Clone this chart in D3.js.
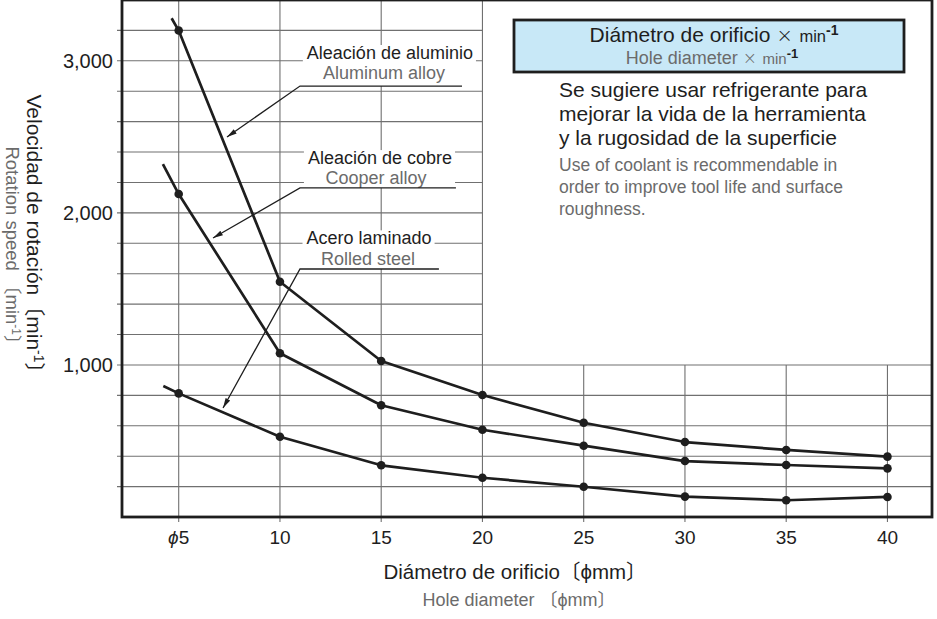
<!DOCTYPE html>
<html><head><meta charset="utf-8">
<script src="https://cdn.jsdelivr.net/npm/d3@7"></script>
<style>
body{margin:0;background:#fff}
svg{display:block}
text{font-family:"Liberation Sans",Arial,Helvetica,"Noto Sans CJK JP",sans-serif}
</style>
</head><body>
<svg id="c" width="937" height="619"></svg>
<script>
// ---------------- data ----------------
const diameters = [5, 10, 15, 20, 25, 30, 35, 40];
const xTickLabels = ["5", "10", "15", "20", "25", "30", "35", "40"];
const aluminum = [3199, 1547, 1026, 802, 620, 493, 441, 397];
const copper   = [2124, 1077, 735, 574, 469, 368, 342, 320];
const steel    = [813, 528, 340, 258, 199, 134, 110, 132];
// each curve starts a little before its first marker: [diameter, speed]
const aluminumLead = [4.65, 3280];
const copperLead   = [4.22, 2321];
const steelLead    = [4.24, 861];
const yTickValues = [1000, 2000, 3000];
const yTickLabels = ["1,000", "2,000", "3,000"];
const gridValues = d3.range(200, 3201, 200);
const seriesNames = ["Aleación de aluminio", "Aleación de cobre", "Acero laminado"];
const seriesNamesEn = ["Aluminum alloy", "Cooper alloy", "Rolled steel"];

// ---------------- layout ----------------
const W = 937, H = 619;
const m = {left: 122, right: 5, top: 0, bottom: 102};
const svg = d3.select("#c");
const x = d3.scaleLinear().domain([2.2, 42.2]).range([m.left, W - m.right]);
const y = d3.scaleLinear().domain([0, 3400]).range([H - m.bottom, m.top]);
const GRAY = "#6b6b6b";
const INK = "#1e1e1e";

// ---------------- grid ----------------
const grid = svg.append("g");
grid.selectAll("line.h").data(gridValues).join("line")
  .attr("x1", x(2.2) - 5)
  .attr("x2", d => d > 1000 ? x(20) : x(42.2))
  .attr("y1", d => y(d)).attr("y2", d => y(d))
  .attr("stroke", "#707070").attr("stroke-width", 1.1);
grid.selectAll("line.v").data(diameters).join("line")
  .attr("x1", d => x(d)).attr("x2", d => x(d))
  .attr("y1", d => d > 20 ? y(1000) : y(3400))
  .attr("y2", y(0) + 5)
  .attr("stroke", "#707070").attr("stroke-width", 1.1);

// ---------------- annotations (labels with leaders) ----------------
const annotations = [
  {i: 0, nx: 15.43, ny: 3012, ex: 15.14, ey: 2880, sx: 10.99, sy: 2834, endx: 18.99, tx: 7.385, ty: 2499},
  {i: 1, nx: 14.94, ny: 2321, ex: 14.74, ey: 2190, sx: 10.99, sy: 2164, endx: 18.69, tx: 6.694, ty: 1835},
  {i: 2, nx: 14.40, ny: 1793, ex: 14.35, ey: 1657, sx: 10.99, sy: 1631, endx: 17.85, tx: 7.19,  ty: 717}
];
svg.append("defs").append("marker")
  .attr("id", "arr").attr("viewBox", "0 -3 10 6").attr("refX", 10).attr("refY", 0)
  .attr("markerWidth", 10).attr("markerHeight", 6).attr("markerUnits", "userSpaceOnUse")
  .attr("orient", "auto-start-reverse")
  .append("path").attr("d", "M0,-2.6L10,0L0,2.6Z").attr("fill", INK);

const ann = svg.append("g");
annotations.forEach(a => {
  const g = ann.append("g");
  const bg = g.append("rect").attr("fill", "#fff");
  const t1 = g.append("text").attr("x", x(a.nx)).attr("y", y(a.ny))
    .attr("text-anchor", "middle").attr("font-size", 18).attr("fill", INK)
    .text(seriesNames[a.i]);
  const t2 = g.append("text").attr("x", x(a.ex)).attr("y", y(a.ey))
    .attr("text-anchor", "middle").attr("font-size", 18).attr("fill", GRAY)
    .text(seriesNamesEn[a.i]);
  const b1 = t1.node().getBBox(), b2 = t2.node().getBBox();
  const l = Math.min(b1.x, b2.x) - 4, r = Math.max(b1.x + b1.width, b2.x + b2.width) + 3;
  const top = b1.y + 2;
  bg.attr("x", l).attr("y", top).attr("width", r - l).attr("height", y(a.sy) - top);
  g.append("polyline")
    .attr("points", `${x(a.tx)},${y(a.ty)} ${x(a.sx)},${y(a.sy)} ${x(a.endx)},${y(a.sy)}`)
    .attr("fill", "none").attr("stroke", INK).attr("stroke-width", 1.3)
    .attr("marker-start", "url(#arr)");
});

// ---------------- series ----------------
const series = [
  {vals: aluminum, lead: aluminumLead},
  {vals: copper, lead: copperLead},
  {vals: steel, lead: steelLead}
];
const line = d3.line().x(d => x(d[0])).y(d => y(d[1]));
const sg = svg.append("g");
series.forEach(s => {
  const pts = [s.lead].concat(diameters.map((d, i) => [d, s.vals[i]]));
  sg.append("path").attr("d", line(pts)).attr("fill", "none")
    .attr("stroke", INK).attr("stroke-width", 2.7).attr("stroke-linejoin", "round");
  sg.selectAll(null).data(diameters.map((d, i) => [d, s.vals[i]])).join("circle")
    .attr("cx", d => x(d[0])).attr("cy", d => y(d[1])).attr("r", 4.3).attr("fill", INK);
});

// ---------------- axes ----------------
const yAxis = svg.append("g");
yAxis.selectAll("text").data(yTickValues).join("text")
  .attr("x", x(2.2) - 9).attr("y", d => y(d)).attr("dy", "0.36em")
  .attr("text-anchor", "end").attr("font-size", 20).attr("fill", INK)
  .text((d, i) => yTickLabels[i]);

const xAxis = svg.append("g");
xAxis.selectAll("text").data(diameters).join("text")
  .attr("x", d => x(d)).attr("y", y(0) + 27)
  .attr("text-anchor", "middle").attr("font-size", 19).attr("fill", INK)
  .each(function(d, i) {
    const t = d3.select(this);
    if (i === 0) t.append("tspan").attr("font-style", "italic").text("ϕ");
    t.append("tspan").text(xTickLabels[i]);
  });

// frame
svg.append("rect").attr("x", x(2.2)).attr("y", y(3400)).attr("width", x(42.2) - x(2.2))
  .attr("height", y(0) - y(3400)).attr("fill", "none").attr("stroke", INK).attr("stroke-width", 2.8);

// axis titles
const xt = svg.append("text").attr("x", 515).attr("y", 579).attr("text-anchor", "middle")
  .attr("font-size", 20.5).attr("fill", INK);
xt.append("tspan").text("Diámetro de orificio");
xt.append("tspan").text("〔ϕmm〕");
const xt2 = svg.append("text").attr("x", 519).attr("y", 606).attr("text-anchor", "middle")
  .attr("font-size", 18).attr("fill", GRAY);
xt2.append("tspan").text("Hole diameter  〔ϕmm〕");

const yt = svg.append("text").attr("transform", "translate(27,239) rotate(90)")
  .attr("text-anchor", "middle").attr("font-size", 21).attr("fill", INK);
yt.append("tspan").text("Velocidad de rotación〔min");
yt.append("tspan").attr("font-size", 14).attr("dy", -7).text("-1");
yt.append("tspan").attr("dy", 7).text("〕");
const yt2 = svg.append("text").attr("transform", "translate(6,250) rotate(90)")
  .attr("text-anchor", "middle").attr("font-size", 18.5).attr("fill", GRAY);
yt2.append("tspan").text("Rotation speed 〔min");
yt2.append("tspan").attr("font-size", 12).attr("dy", -6).text("-1");
yt2.append("tspan").attr("dy", 6).text("〕");

// ---------------- legend box & notes ----------------
svg.append("rect").attr("x", 514).attr("y", 20).attr("width", 390).attr("height", 52)
  .attr("fill", "#c8e8f7").attr("stroke", INK).attr("stroke-width", 2.8);
const lg1 = svg.append("text").attr("x", 714).attr("y", 42).attr("text-anchor", "middle")
  .attr("font-size", 21).attr("fill", INK);
lg1.append("tspan").text("Diámetro de orificio ");
lg1.append("tspan").attr("font-size", 20).attr("font-family", "DejaVu Sans").attr("font-weight", 200).text(" × ");
lg1.append("tspan").attr("font-size", 16.5).text("min");
lg1.append("tspan").attr("font-size", 14).attr("font-weight", "bold").attr("dy", -7).text("-1");
const lg2 = svg.append("text").attr("x", 712).attr("y", 64).attr("text-anchor", "middle")
  .attr("font-size", 18).attr("fill", GRAY);
lg2.append("tspan").text("Hole diameter ");
lg2.append("tspan").attr("font-size", 17).attr("font-family", "DejaVu Sans").attr("font-weight", 200).text(" × ");
lg2.append("tspan").attr("font-size", 15).text("min");
lg2.append("tspan").attr("font-size", 13).attr("font-weight", "bold").attr("fill", INK).attr("dy", -6).text("-1");

const notesEs = ["Se sugiere usar refrigerante para", "mejorar la vida de la herramienta", "y la rugosidad de la superficie"];
const notesEn = ["Use of coolant is recommendable in", "order to improve tool life and surface", "roughness."];
svg.append("g").selectAll("text").data(notesEs).join("text")
  .attr("x", 559).attr("y", (d, i) => 97 + i * 24)
  .attr("font-size", 21).attr("fill", INK).text(d => d);
svg.append("g").selectAll("text").data(notesEn).join("text")
  .attr("x", 559).attr("y", (d, i) => 171 + i * 22)
  .attr("font-size", 17.5).attr("fill", GRAY).text(d => d);
</script>
</body></html>
